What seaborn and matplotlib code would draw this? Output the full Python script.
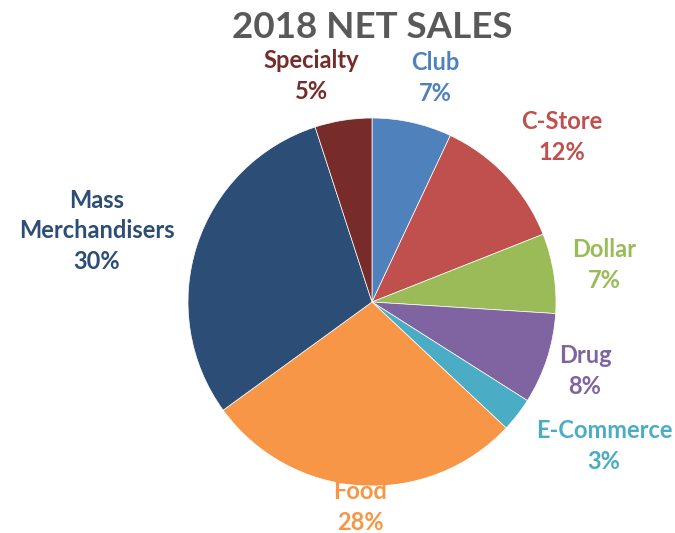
import matplotlib
matplotlib.use("Agg")
import matplotlib.pyplot as plt
import seaborn as sns

sns.set_theme(style="white")
plt.rcParams["font.family"] = ["Lato", "DejaVu Sans"]

# 2018 net sales share by channel
channels = ["Club", "C-Store", "Dollar", "Drug", "E-Commerce", "Food",
            "Mass\nMerchandisers", "Specialty"]
shares = [7, 12, 7, 8, 3, 28, 30, 5]
colors = ["#4F81BD", "#C0504D", "#9BBB59", "#8064A2", "#4BACC6",
          "#F79646", "#2C4D75", "#772C2A"]

# label anchor points (pixel positions in the 675x533 canvas)
label_px = [(435, 78), (562, 137), (604, 265), (585, 371), (604, 446),
            (360, 507), (97, 231), (311, 76)]

W, H = 675, 533
fig = plt.figure(figsize=(W / 100, H / 100), dpi=100)
cx, cy, r = 372, 302, 184
ax = fig.add_axes([(cx - r) / W, (H - cy - r) / H, 2 * r / W, 2 * r / H])

ax.pie(shares, colors=colors, startangle=90, counterclock=False,
       radius=1.0, wedgeprops=dict(linewidth=0.5, edgecolor="white"))
ax.set_xlim(-1, 1)
ax.set_ylim(-1, 1)
ax.set_aspect("equal")
ax.axis("off")

for name, val, col, (px, py) in zip(channels, shares, colors, label_px):
    fig.text(px / W, 1 - py / H, f"{name}\n{val}%", color=col,
             ha="center", va="center", fontsize=17, fontweight="bold",
             linespacing=1.42)

fig.text(cx / W, 1 - 28 / H, "2018 NET SALES", color="#595959",
         ha="center", va="center", fontsize=26.5, fontweight="bold")

fig.savefig("out.png", dpi=100, facecolor="white")
